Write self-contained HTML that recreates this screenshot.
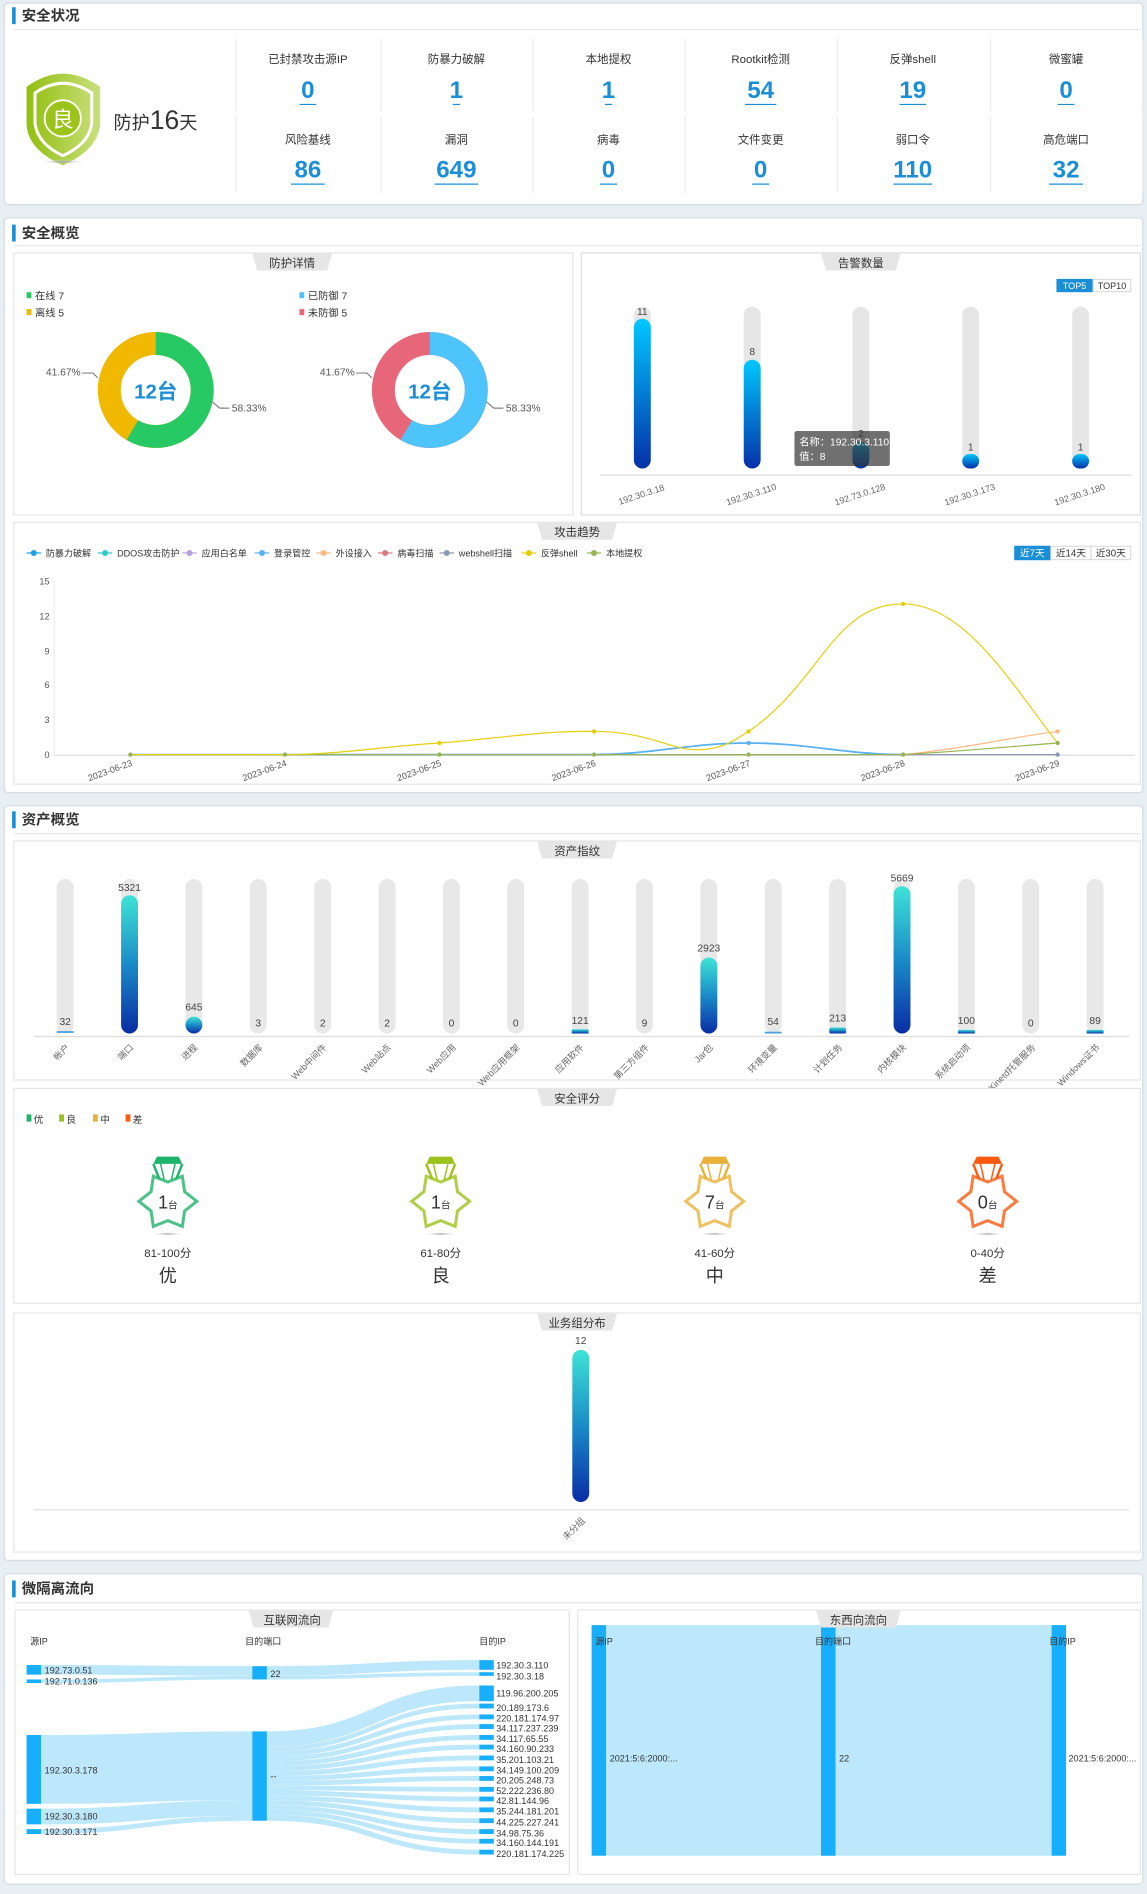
<!DOCTYPE html>
<html><head><meta charset="utf-8">
<style>
html,body{margin:0;padding:0;background:#e8eff3;}
svg{display:block;}
text{font-family:"Liberation Sans","Noto Sans CJK SC",sans-serif;}
</style></head>
<body>
<svg width="1147" height="1894" viewBox="0 0 950 1568.7" xmlns="http://www.w3.org/2000/svg">
<defs>
<linearGradient id="gB" x1="0" y1="0" x2="0" y2="1"><stop offset="0" stop-color="#00c8ff"/><stop offset="1" stop-color="#0630a8"/></linearGradient>
<linearGradient id="gA" x1="0" y1="0" x2="0" y2="1"><stop offset="0" stop-color="#3fe3d6"/><stop offset="0.5" stop-color="#1a8bc8"/><stop offset="1" stop-color="#0a2ca5"/></linearGradient>
<linearGradient id="gS" x1="0" y1="0" x2="1" y2="0"><stop offset="0" stop-color="#93bf10"/><stop offset="1" stop-color="#c9e07c"/></linearGradient>
<radialGradient id="sh"><stop offset="0" stop-color="#999"/><stop offset="1" stop-color="#fff" stop-opacity="0"/></radialGradient>
<polygon id="star" points="24,995 13.9,1003 12,1015.8 0,1011 -12,1015.8 -13.9,1003 -24,995 -13.9,987 -12,974.2 0,979 12,974.2 13.9,987"/>
</defs>
<rect width="950" height="1569" fill="#e8eff3"/>

<!-- PANEL 1 -->
<rect x="3.5" y="2.5" width="943" height="167" rx="3" fill="#fff" stroke="#d3dce2"/>
<rect x="10" y="6" width="3" height="14" fill="#1a8fd8"/>
<text x="18" y="17" font-size="12" font-weight="bold" fill="#333">安全状况</text>
<line x1="12" y1="24.5" x2="945" y2="24.5" stroke="#e6e6e6"/>
<path d="M22,72 Q52,50 83,72 L83,103 Q81,124 52,137 Q23,124 22,103 Z" fill="url(#gS)"/>
<path d="M29,77 Q52,61 76,77 L76,102 Q74,119 52,129 Q31,119 29,102 Z" fill="none" stroke="#fff" stroke-width="2.5"/>
<circle cx="52" cy="98" r="15" fill="#9cc31a" stroke="#fff" stroke-width="1.5"/>
<text x="52" y="105" font-size="18" fill="#fff" text-anchor="middle">良</text>
<ellipse cx="52" cy="134" rx="20" ry="2" fill="url(#sh)"/>
<text x="94" y="107" font-size="15" fill="#333">防护<tspan font-size="22">16</tspan>天</text>
<g stroke="#ececec">
<line x1="195.5" y1="32" x2="195.5" y2="160"/><line x1="315.5" y1="32" x2="315.5" y2="160"/><line x1="441.5" y1="32" x2="441.5" y2="160"/><line x1="567.5" y1="32" x2="567.5" y2="160"/><line x1="693.5" y1="32" x2="693.5" y2="160"/><line x1="820.5" y1="32" x2="820.5" y2="160"/><line x1="946.5" y1="32" x2="946.5" y2="160"/>
<line x1="195" y1="94.5" x2="946" y2="94.5" stroke="#fff" stroke-width="4"/>
</g>
<g font-size="9.5" fill="#333" text-anchor="middle">
<text x="255" y="52">已封禁攻击源IP</text><text x="378" y="52">防暴力破解</text><text x="504" y="52">本地提权</text><text x="630" y="52">Rootkit检测</text><text x="756" y="52">反弹shell</text><text x="883" y="52">微蜜罐</text>
<text x="255" y="119">风险基线</text><text x="378" y="119">漏洞</text><text x="504" y="119">病毒</text><text x="630" y="119">文件变更</text><text x="756" y="119">弱口令</text><text x="883" y="119">高危端口</text>
</g>
<g font-size="20" font-weight="bold" fill="#1a8fd8" text-anchor="middle">
<text x="255" y="81">0</text><text x="378" y="81">1</text><text x="504" y="81">1</text><text x="630" y="81">54</text><text x="756" y="81">19</text><text x="883" y="81">0</text>
<text x="255" y="147">86</text><text x="378" y="147">649</text><text x="504" y="147">0</text><text x="630" y="147">0</text><text x="756" y="147">110</text><text x="883" y="147">32</text>
</g>
<g stroke="#1a8fd8" stroke-width="1">
<line x1="248" y1="86.5" x2="262" y2="86.5"/><line x1="375" y1="86.5" x2="381" y2="86.5"/><line x1="501" y1="86.5" x2="507" y2="86.5"/><line x1="617" y1="86.5" x2="643" y2="86.5"/><line x1="745" y1="86.5" x2="767" y2="86.5"/><line x1="876" y1="86.5" x2="890" y2="86.5"/>
<line x1="241" y1="152.5" x2="269" y2="152.5"/><line x1="360" y1="152.5" x2="396" y2="152.5"/><line x1="497" y1="152.5" x2="511" y2="152.5"/><line x1="623" y1="152.5" x2="637" y2="152.5"/><line x1="740" y1="152.5" x2="772" y2="152.5"/><line x1="869" y1="152.5" x2="897" y2="152.5"/>
</g>

<!-- PANEL 2 -->
<rect x="3.5" y="180.5" width="943" height="476" rx="3" fill="#fff" stroke="#d3dce2"/>
<rect x="10" y="186" width="3" height="14" fill="#1a8fd8"/>
<text x="18" y="197" font-size="12" font-weight="bold" fill="#333">安全概览</text>
<line x1="12" y1="203.5" x2="945" y2="203.5" stroke="#e6e6e6"/>
<rect x="11.5" y="209.5" width="463" height="217" fill="#fff" stroke="#e6e6e6"/>
<polygon points="209,210 275,210 271,224 213,224" fill="#e6e6e6"/>
<text x="242" y="221" font-size="9.5" fill="#333" text-anchor="middle">防护详情</text>
<g font-size="8.5" fill="#333">
<rect x="22" y="242" width="4" height="5" fill="#27c964"/><text x="29" y="248">在线  7</text>
<rect x="22" y="256" width="4" height="5" fill="#f0b800"/><text x="29" y="262">离线  5</text>
<rect x="248" y="242" width="4" height="5" fill="#4dc4fb"/><text x="255" y="248">已防御  7</text>
<rect x="248" y="256" width="4" height="5" fill="#e8667a"/><text x="255" y="262">未防御  5</text>
</g>
<circle cx="129" cy="323" r="38.5" fill="none" stroke="#f0b800" stroke-width="19"/>
<circle cx="129" cy="323" r="38.5" fill="none" stroke="#27c964" stroke-width="19" stroke-dasharray="141.1 300" transform="rotate(-90 129 323)"/>
<text x="129" y="330" font-size="17" font-weight="bold" fill="#1a8fd8" text-anchor="middle">12台</text>
<circle cx="356" cy="323" r="38.5" fill="none" stroke="#e8667a" stroke-width="19"/>
<circle cx="356" cy="323" r="38.5" fill="none" stroke="#4dc4fb" stroke-width="19" stroke-dasharray="141.1 300" transform="rotate(-90 356 323)"/>
<text x="356" y="330" font-size="17" font-weight="bold" fill="#1a8fd8" text-anchor="middle">12台</text>
<g font-size="8.5" fill="#555" stroke-width="0.8">
<text x="38" y="311">41.67%</text><polyline points="68,309 77,309 81,313" fill="none" stroke="#666"/>
<text x="192" y="341">58.33%</text><polyline points="176,333 182,338 190,338" fill="none" stroke="#666"/>
<text x="265" y="311">41.67%</text><polyline points="295,309 304,309 308,313" fill="none" stroke="#666"/>
<text x="419" y="341">58.33%</text><polyline points="403,333 409,338 417,338" fill="none" stroke="#666"/>
</g>

<rect x="481.5" y="209.5" width="463" height="217" fill="#fff" stroke="#dcdcdc"/>
<polygon points="680,210 746,210 742,224 684,224" fill="#e6e6e6"/>
<text x="713" y="221" font-size="9.5" fill="#333" text-anchor="middle">告警数量</text>
<rect x="875" y="231" width="30" height="11" fill="#1a8fd8"/><text x="890" y="239.5" font-size="7.5" fill="#fff" text-anchor="middle">TOP5</text>
<rect x="905.5" y="231.5" width="31" height="10" fill="#fff" stroke="#ddd"/><text x="921" y="239.5" font-size="7.5" fill="#333" text-anchor="middle">TOP10</text>
<g fill="#e6e6e6">
<rect x="525" y="254" width="14" height="134" rx="7"/><rect x="616" y="254" width="14" height="134" rx="7"/><rect x="706" y="254" width="14" height="134" rx="7"/><rect x="797" y="254" width="14" height="134" rx="7"/><rect x="888" y="254" width="14" height="134" rx="7"/>
</g>
<rect x="525" y="264" width="14" height="124" rx="7" fill="url(#gB)"/>
<rect x="616" y="298" width="14" height="90" rx="7" fill="url(#gB)"/>
<rect x="706" y="366" width="14" height="22" rx="7" fill="url(#gB)"/>
<rect x="797" y="376" width="14" height="12" rx="6" fill="url(#gB)"/>
<rect x="888" y="376" width="14" height="12" rx="6" fill="url(#gB)"/>
<g font-size="8.5" fill="#444" text-anchor="middle">
<text x="532" y="261">11</text><text x="623" y="294">8</text><text x="713" y="362">2</text><text x="804" y="373">1</text><text x="895" y="373">1</text>
</g>
<line x1="497" y1="393.5" x2="937" y2="393.5" stroke="#ddd"/>
<g font-size="7.5" fill="#666" text-anchor="middle">
<text x="532" y="412" transform="rotate(-18 532 412)">192.30.3.18</text>
<text x="623" y="412" transform="rotate(-18 623 412)">192.30.3.110</text>
<text x="713" y="412" transform="rotate(-18 713 412)">192.73.0.128</text>
<text x="804" y="412" transform="rotate(-18 804 412)">192.30.3.173</text>
<text x="895" y="412" transform="rotate(-18 895 412)">192.30.3.180</text>
</g>
<rect x="658" y="357" width="79" height="29" rx="2" fill="#333" fill-opacity="0.7"/>
<text x="662" y="369" font-size="8.5" fill="#fff">名称：192.30.3.110</text>
<text x="662" y="381" font-size="8.5" fill="#fff">值：8</text>

<!-- attack trend -->
<rect x="11.5" y="432.5" width="933" height="217" fill="#fff" stroke="#e6e6e6"/>
<polygon points="445,433 511,433 507,447 449,447" fill="#e6e6e6"/>
<text x="478" y="444" font-size="9.5" fill="#333" text-anchor="middle">攻击趋势</text>
<g font-size="7.5" fill="#333">
<g><line x1="22" y1="458" x2="34" y2="458" stroke="#1e9fe8"/><circle cx="28" cy="458" r="2.5" fill="#1e9fe8"/><text x="38" y="461">防暴力破解</text></g>
<g><line x1="81" y1="458" x2="93" y2="458" stroke="#2ecbc7"/><circle cx="87" cy="458" r="2.5" fill="#2ecbc7"/><text x="97" y="461">DDOS攻击防护</text></g>
<g><line x1="151" y1="458" x2="163" y2="458" stroke="#b6a2de"/><circle cx="157" cy="458" r="2.5" fill="#b6a2de"/><text x="167" y="461">应用白名单</text></g>
<g><line x1="211" y1="458" x2="223" y2="458" stroke="#5ab1ef"/><circle cx="217" cy="458" r="2.5" fill="#5ab1ef"/><text x="227" y="461">登录管控</text></g>
<g><line x1="262" y1="458" x2="274" y2="458" stroke="#ffb980"/><circle cx="268" cy="458" r="2.5" fill="#ffb980"/><text x="278" y="461">外设接入</text></g>
<g><line x1="313" y1="458" x2="325" y2="458" stroke="#d87a80"/><circle cx="319" cy="458" r="2.5" fill="#d87a80"/><text x="329" y="461">病毒扫描</text></g>
<g><line x1="364" y1="458" x2="376" y2="458" stroke="#8d98b3"/><circle cx="370" cy="458" r="2.5" fill="#8d98b3"/><text x="380" y="461">webshell扫描</text></g>
<g><line x1="432" y1="458" x2="444" y2="458" stroke="#e5cf0d"/><circle cx="438" cy="458" r="2.5" fill="#e5cf0d"/><text x="448" y="461">反弹shell</text></g>
<g><line x1="486" y1="458" x2="498" y2="458" stroke="#97b552"/><circle cx="492" cy="458" r="2.5" fill="#97b552"/><text x="502" y="461">本地提权</text></g>
</g>
<rect x="840" y="452" width="30" height="12" fill="#1a8fd8"/><text x="855" y="461" font-size="8" fill="#fff" text-anchor="middle">近7天</text>
<rect x="870.5" y="452.5" width="33" height="11" fill="#fff" stroke="#ddd"/><text x="887" y="461" font-size="8" fill="#333" text-anchor="middle">近14天</text>
<rect x="903.5" y="452.5" width="33" height="11" fill="#fff" stroke="#ddd"/><text x="920" y="461" font-size="8" fill="#333" text-anchor="middle">近30天</text>
<g font-size="7.5" fill="#555" text-anchor="end">
<text x="41" y="484">15</text><text x="41" y="513">12</text><text x="41" y="542">9</text><text x="41" y="570">6</text><text x="41" y="599">3</text><text x="41" y="628">0</text>
</g>
<line x1="45" y1="481" x2="45" y2="625" stroke="#eee"/>
<line x1="45" y1="625.5" x2="940" y2="625.5" stroke="#ddd"/>
<g fill="none" stroke-width="1">
<path d="M108,625 L876,625" stroke="#8d98b3"/>
<path d="M108,625 L492,625 C540,625 570,615.4 620,615.4 C670,615.4 700,625 748,625" stroke="#5ab1ef" stroke-width="1.5"/>
<path d="M748,625 C800,620 840,610 876,605.8" stroke="#ffb980"/>
<path d="M108,625 L748,625 C800,622 840,618 876,615.4" stroke="#97b552"/>
<path d="M108,625 L236,625 C280,625 320,618 364,615.4 C410,612 450,605 492,605.8 C540,606 555,622 580,621 C600,620 610,612 620,605.8 C680,565 690,500 748,500.2 C800,500 840,570 876,615.4" stroke="#e5cf0d"/>
</g>
<g fill="#97b552">
<circle cx="108" cy="625" r="1.8"/><circle cx="236" cy="625" r="1.8"/><circle cx="364" cy="625" r="1.8"/><circle cx="492" cy="625" r="1.8"/><circle cx="620" cy="625" r="1.8"/><circle cx="748" cy="625" r="1.8"/><circle cx="876" cy="615.4" r="1.8"/>
</g>
<g fill="#e5cf0d"><circle cx="364" cy="615.4" r="1.8"/><circle cx="492" cy="605.8" r="1.8"/><circle cx="620" cy="605.8" r="1.8"/><circle cx="748" cy="500.2" r="1.8"/></g>
<circle cx="620" cy="615.4" r="1.8" fill="#5ab1ef"/><circle cx="876" cy="605.8" r="1.8" fill="#ffb980"/><circle cx="876" cy="625" r="1.8" fill="#8d98b3"/>
<g font-size="7.5" fill="#555" text-anchor="end">
<text x="110" y="634" transform="rotate(-20 110 634)">2023-06-23</text>
<text x="238" y="634" transform="rotate(-20 238 634)">2023-06-24</text>
<text x="366" y="634" transform="rotate(-20 366 634)">2023-06-25</text>
<text x="494" y="634" transform="rotate(-20 494 634)">2023-06-26</text>
<text x="622" y="634" transform="rotate(-20 622 634)">2023-06-27</text>
<text x="750" y="634" transform="rotate(-20 750 634)">2023-06-28</text>
<text x="878" y="634" transform="rotate(-20 878 634)">2023-06-29</text>
</g>

<!-- PANEL 3 -->
<rect x="3.5" y="667.5" width="943" height="625" rx="3" fill="#fff" stroke="#d3dce2"/>
<rect x="10" y="672" width="3" height="14" fill="#1a8fd8"/>
<text x="18" y="683" font-size="12" font-weight="bold" fill="#333">资产概览</text>
<line x1="12" y1="690.5" x2="945" y2="690.5" stroke="#e6e6e6"/>
<rect x="11.5" y="696.5" width="933" height="198" fill="#fff" stroke="#e6e6e6"/>
<polygon points="445,697 511,697 507,711 449,711" fill="#e6e6e6"/>
<text x="478" y="708" font-size="9.5" fill="#333" text-anchor="middle">资产指纹</text>
<g fill="#e8e8e8">
<rect x="47" y="728" width="14" height="128" rx="7"/><rect x="100.3" y="728" width="14" height="128" rx="7"/><rect x="153.6" y="728" width="14" height="128" rx="7"/><rect x="206.9" y="728" width="14" height="128" rx="7"/><rect x="260.3" y="728" width="14" height="128" rx="7"/><rect x="313.6" y="728" width="14" height="128" rx="7"/><rect x="366.9" y="728" width="14" height="128" rx="7"/><rect x="420.2" y="728" width="14" height="128" rx="7"/><rect x="473.5" y="728" width="14" height="128" rx="7"/><rect x="526.8" y="728" width="14" height="128" rx="7"/><rect x="580.1" y="728" width="14" height="128" rx="7"/><rect x="633.4" y="728" width="14" height="128" rx="7"/><rect x="686.8" y="728" width="14" height="128" rx="7"/><rect x="740.1" y="728" width="14" height="128" rx="7"/><rect x="793.4" y="728" width="14" height="128" rx="7"/><rect x="846.7" y="728" width="14" height="128" rx="7"/><rect x="900" y="728" width="14" height="128" rx="7"/>
</g>
<rect x="47" y="854" width="14" height="1.5" fill="#4aa3df"/>
<rect x="100.3" y="741.5" width="14" height="114.5" rx="7" fill="url(#gA)"/>
<rect x="153.6" y="842" width="14" height="14" rx="7" fill="url(#gA)"/>
<rect x="473.5" y="852.5" width="14" height="3.5" fill="url(#gA)"/>
<rect x="580.1" y="793" width="14" height="63" rx="7" fill="url(#gA)"/>
<rect x="633.4" y="854.5" width="14" height="1.5" fill="#4aa3df"/>
<rect x="686.8" y="851" width="14" height="5" rx="1.5" fill="url(#gA)"/>
<rect x="740.1" y="734" width="14" height="122" rx="7" fill="url(#gA)"/>
<rect x="793.4" y="853" width="14" height="3" fill="url(#gA)"/>
<rect x="900" y="853" width="14" height="3" fill="url(#gA)"/>
<g font-size="8.5" fill="#444" text-anchor="middle">
<text x="54" y="849">32</text><text x="107.3" y="738">5321</text><text x="160.6" y="837">645</text><text x="213.9" y="850">3</text><text x="267.3" y="850">2</text><text x="320.6" y="850">2</text><text x="373.9" y="850">0</text><text x="427.2" y="850">0</text><text x="480.5" y="848">121</text><text x="533.8" y="850">9</text><text x="587.1" y="788">2923</text><text x="640.4" y="849">54</text><text x="693.8" y="846">213</text><text x="747.1" y="730">5669</text><text x="800.4" y="848">100</text><text x="853.7" y="850">0</text><text x="907" y="848">89</text>
</g>
<line x1="28" y1="858.5" x2="935" y2="858.5" stroke="#ddd"/>
<g font-size="7.5" fill="#666" text-anchor="end">
<text x="58" y="868" transform="rotate(-45 58 868)">帐户</text>
<text x="111" y="868" transform="rotate(-45 111 868)">端口</text>
<text x="164" y="868" transform="rotate(-45 164 868)">进程</text>
<text x="218" y="868" transform="rotate(-45 218 868)">数据库</text>
<text x="271" y="868" transform="rotate(-45 271 868)">Web中间件</text>
<text x="324" y="868" transform="rotate(-45 324 868)">Web站点</text>
<text x="378" y="868" transform="rotate(-45 378 868)">Web应用</text>
<text x="431" y="868" transform="rotate(-45 431 868)">Web应用框架</text>
<text x="484" y="868" transform="rotate(-45 484 868)">应用软件</text>
<text x="538" y="868" transform="rotate(-45 538 868)">第三方组件</text>
<text x="591" y="868" transform="rotate(-45 591 868)">Jar包</text>
<text x="644" y="868" transform="rotate(-45 644 868)">环境变量</text>
<text x="698" y="868" transform="rotate(-45 698 868)">计划任务</text>
<text x="751" y="868" transform="rotate(-45 751 868)">内核模块</text>
<text x="804" y="868" transform="rotate(-45 804 868)">系统启动项</text>
<text x="858" y="868" transform="rotate(-45 858 868)">Xinetd托管服务</text>
<text x="911" y="868" transform="rotate(-45 911 868)">Windows证书</text>
</g>

<!-- safety score -->
<rect x="11.5" y="901.5" width="933" height="178" fill="#fff" stroke="#e6e6e6"/>
<polygon points="445,902 511,902 507,916 449,916" fill="#e6e6e6"/>
<text x="478" y="913" font-size="9.5" fill="#333" text-anchor="middle">安全评分</text>
<g font-size="8" fill="#333">
<rect x="22" y="923" width="4" height="6" fill="#1db36a"/><text x="28" y="930">优</text>
<rect x="49" y="923" width="4" height="6" fill="#9dc21b"/><text x="55" y="930">良</text>
<rect x="77" y="923" width="4" height="6" fill="#eab13a"/><text x="83" y="930">中</text>
<rect x="104" y="923" width="4" height="6" fill="#fd5a11"/><text x="110" y="930">差</text>
</g>
<g transform="translate(139,0)">
<polygon points="-9,958 9,958 12,964 -12,964" fill="#1db36a"/>
<line x1="-12" y1="964" x2="-6" y2="979" stroke="#1db36a" stroke-width="2"/><line x1="12" y1="964" x2="6" y2="979" stroke="#1db36a" stroke-width="2"/><line x1="-6" y1="964" x2="-3" y2="977" stroke="#1db36a" stroke-width="1.2"/><line x1="6" y1="964" x2="3" y2="977" stroke="#1db36a" stroke-width="1.2"/>
<use href="#star" fill="#fff" stroke="#1db36a" stroke-width="2.5" stroke-opacity="0.8"/>
<text x="0" y="1001" font-size="15" fill="#333" text-anchor="middle">1<tspan font-size="8">台</tspan></text>
<ellipse cx="0" cy="1022" rx="14" ry="1.5" fill="url(#sh)"/>
<text x="0" y="1041" font-size="9.5" fill="#333" text-anchor="middle">81-100分</text>
<text x="0" y="1062" font-size="15" fill="#333" text-anchor="middle">优</text>
</g>
<g transform="translate(365,0)">
<polygon points="-9,958 9,958 12,964 -12,964" fill="#9dc21b"/>
<line x1="-12" y1="964" x2="-6" y2="979" stroke="#9dc21b" stroke-width="2"/><line x1="12" y1="964" x2="6" y2="979" stroke="#9dc21b" stroke-width="2"/><line x1="-6" y1="964" x2="-3" y2="977" stroke="#9dc21b" stroke-width="1.2"/><line x1="6" y1="964" x2="3" y2="977" stroke="#9dc21b" stroke-width="1.2"/>
<use href="#star" fill="#fff" stroke="#9dc21b" stroke-width="2.5" stroke-opacity="0.8"/>
<text x="0" y="1001" font-size="15" fill="#333" text-anchor="middle">1<tspan font-size="8">台</tspan></text>
<ellipse cx="0" cy="1022" rx="14" ry="1.5" fill="url(#sh)"/>
<text x="0" y="1041" font-size="9.5" fill="#333" text-anchor="middle">61-80分</text>
<text x="0" y="1062" font-size="15" fill="#333" text-anchor="middle">良</text>
</g>
<g transform="translate(592,0)">
<polygon points="-9,958 9,958 12,964 -12,964" fill="#eab13a"/>
<line x1="-12" y1="964" x2="-6" y2="979" stroke="#eab13a" stroke-width="2"/><line x1="12" y1="964" x2="6" y2="979" stroke="#eab13a" stroke-width="2"/><line x1="-6" y1="964" x2="-3" y2="977" stroke="#eab13a" stroke-width="1.2"/><line x1="6" y1="964" x2="3" y2="977" stroke="#eab13a" stroke-width="1.2"/>
<use href="#star" fill="#fff" stroke="#eab13a" stroke-width="2.5" stroke-opacity="0.8"/>
<text x="0" y="1001" font-size="15" fill="#333" text-anchor="middle">7<tspan font-size="8">台</tspan></text>
<ellipse cx="0" cy="1022" rx="14" ry="1.5" fill="url(#sh)"/>
<text x="0" y="1041" font-size="9.5" fill="#333" text-anchor="middle">41-60分</text>
<text x="0" y="1062" font-size="15" fill="#333" text-anchor="middle">中</text>
</g>
<g transform="translate(818,0)">
<polygon points="-9,958 9,958 12,964 -12,964" fill="#fd5a11"/>
<line x1="-12" y1="964" x2="-6" y2="979" stroke="#fd5a11" stroke-width="2"/><line x1="12" y1="964" x2="6" y2="979" stroke="#fd5a11" stroke-width="2"/><line x1="-6" y1="964" x2="-3" y2="977" stroke="#fd5a11" stroke-width="1.2"/><line x1="6" y1="964" x2="3" y2="977" stroke="#fd5a11" stroke-width="1.2"/>
<use href="#star" fill="#fff" stroke="#fd5a11" stroke-width="2.5" stroke-opacity="0.8"/>
<text x="0" y="1001" font-size="15" fill="#333" text-anchor="middle">0<tspan font-size="8">台</tspan></text>
<ellipse cx="0" cy="1022" rx="14" ry="1.5" fill="url(#sh)"/>
<text x="0" y="1041" font-size="9.5" fill="#333" text-anchor="middle">0-40分</text>
<text x="0" y="1062" font-size="15" fill="#333" text-anchor="middle">差</text>
</g>

<!-- business group -->
<rect x="11.5" y="1087.5" width="933" height="198" fill="#fff" stroke="#e6e6e6"/>
<polygon points="445,1088 511,1088 507,1102 449,1102" fill="#e6e6e6"/>
<text x="478" y="1099" font-size="9.5" fill="#333" text-anchor="middle">业务组分布</text>
<rect x="474" y="1118" width="14" height="126" rx="7" fill="url(#gA)"/>
<text x="481" y="1113" font-size="8.5" fill="#444" text-anchor="middle">12</text>
<line x1="28" y1="1250.5" x2="935" y2="1250.5" stroke="#ddd"/>
<text x="485" y="1260" font-size="7.5" fill="#666" text-anchor="end" transform="rotate(-45 485 1260)">未分组</text>

<!-- PANEL 4 -->
<rect x="3.5" y="1303.5" width="943" height="257" rx="3" fill="#fff" stroke="#d3dce2"/>
<rect x="10" y="1309" width="3" height="14" fill="#1a8fd8"/>
<text x="18" y="1320" font-size="12" font-weight="bold" fill="#333">微隔离流向</text>
<line x1="12" y1="1327.5" x2="945" y2="1327.5" stroke="#e6e6e6"/>

<rect x="12.5" y="1333.5" width="459" height="219" fill="#fff" stroke="#e6e6e6"/>
<polygon points="206,1334 276,1334 272,1348 210,1348" fill="#e6e6e6"/>
<text x="242" y="1345" font-size="9.5" fill="#333" text-anchor="middle">互联网流向</text>
<g font-size="7.5" fill="#333"><text x="25" y="1362">源IP</text><text x="203" y="1362">目的端口</text><text x="397" y="1362">目的IP</text></g>
<g fill="#bde7fb">
<path d="M34,1379 C120,1379 120,1380 209,1380 L209,1388 C120,1388 120,1387 34,1387 Z"/>
<path d="M34,1391 C120,1391 120,1388 209,1388 L209,1391 C120,1391 120,1394 34,1394 Z"/>
<path d="M221,1380 C309,1380 309,1375 397,1375 L397,1383 C309,1383 309,1388 221,1388 Z"/>
<path d="M221,1388 C309,1388 309,1385 397,1385 L397,1388 C309,1388 309,1391 221,1391 Z"/>
<path d="M34,1437 C120,1437 120,1434 209,1434 L209,1491 C120,1491 120,1494 34,1494 Z"/>
<path d="M34,1498 C120,1498 120,1491 209,1491 L209,1504 C120,1504 120,1511 34,1511 Z"/>
<path d="M34,1515 C120,1515 120,1504 209,1504 L209,1508 C120,1508 120,1519 34,1519 Z"/>
<path d="M221,1434 C309,1434 309,1396 397,1396 L397,1409 C309,1409 309,1447 221,1447 Z"/>
<path d="M221,1447 C309,1447 309,1411 397,1411 L397,1415 C309,1415 309,1451 221,1451 Z"/>
<path d="M221,1451 C309,1451 309,1420 397,1420 L397,1424 C309,1424 309,1455 221,1455 Z"/>
<path d="M221,1455 C309,1455 309,1428 397,1428 L397,1432 C309,1432 309,1459 221,1459 Z"/>
<path d="M221,1459 C309,1459 309,1437 397,1437 L397,1441 C309,1441 309,1463 221,1463 Z"/>
<path d="M221,1463 C309,1463 309,1445 397,1445 L397,1449 C309,1449 309,1467 221,1467 Z"/>
<path d="M221,1467 C309,1467 309,1454 397,1454 L397,1458 C309,1458 309,1471 221,1471 Z"/>
<path d="M221,1471 C309,1471 309,1463 397,1463 L397,1467 C309,1467 309,1475 221,1475 Z"/>
<path d="M221,1475 C309,1475 309,1471 397,1471 L397,1475 C309,1475 309,1479 221,1479 Z"/>
<path d="M221,1479 C309,1479 309,1480 397,1480 L397,1484 C309,1484 309,1483 221,1483 Z"/>
<path d="M221,1483 C309,1483 309,1488 397,1488 L397,1492 C309,1492 309,1487 221,1487 Z"/>
<path d="M221,1487 C309,1487 309,1497 397,1497 L397,1501 C309,1501 309,1491 221,1491 Z"/>
<path d="M221,1491 C309,1491 309,1506 397,1506 L397,1510 C309,1510 309,1495 221,1495 Z"/>
<path d="M221,1495 C309,1495 309,1515 397,1515 L397,1519 C309,1519 309,1499 221,1499 Z"/>
<path d="M221,1499 C309,1499 309,1523 397,1523 L397,1527 C309,1527 309,1503 221,1503 Z"/>
<path d="M221,1503 C309,1503 309,1532 397,1532 L397,1536 C309,1536 309,1508 221,1508 Z"/>
</g>
<g fill="#17aefc">
<rect x="22" y="1379" width="12" height="8"/><rect x="22" y="1391" width="12" height="3"/><rect x="22" y="1437" width="12" height="57"/><rect x="22" y="1498" width="12" height="13"/><rect x="22" y="1515" width="12" height="4"/>
<rect x="209" y="1380" width="12" height="11"/><rect x="209" y="1434" width="12" height="74"/>
<rect x="397" y="1375" width="12" height="8"/><rect x="397" y="1385" width="12" height="3"/><rect x="397" y="1396" width="12" height="13"/>
<rect x="397" y="1411" width="12" height="4"/><rect x="397" y="1420" width="12" height="4"/><rect x="397" y="1428" width="12" height="4"/><rect x="397" y="1437" width="12" height="4"/><rect x="397" y="1445" width="12" height="4"/><rect x="397" y="1454" width="12" height="4"/><rect x="397" y="1463" width="12" height="4"/><rect x="397" y="1471" width="12" height="4"/><rect x="397" y="1480" width="12" height="4"/><rect x="397" y="1488" width="12" height="4"/><rect x="397" y="1497" width="12" height="4"/><rect x="397" y="1506" width="12" height="4"/><rect x="397" y="1515" width="12" height="4"/><rect x="397" y="1523" width="12" height="4"/><rect x="397" y="1532" width="12" height="4"/>
</g>
<g font-size="7.5" fill="#333">
<text x="37" y="1386">192.73.0.51</text><text x="37" y="1395">192.71.0.136</text><text x="37" y="1469">192.30.3.178</text><text x="37" y="1507">192.30.3.180</text><text x="37" y="1520">192.30.3.171</text>
<text x="224" y="1389">22</text><text x="224" y="1474">--</text>
<text x="411" y="1382">192.30.3.110</text><text x="411" y="1391">192.30.3.18</text><text x="411" y="1405">119.96.200.205</text>
<text x="411" y="1417">20.189.173.6</text><text x="411" y="1426">220.181.174.97</text><text x="411" y="1434">34.117.237.239</text><text x="411" y="1443">34.117.65.55</text><text x="411" y="1451">34.160.90.233</text><text x="411" y="1460">35.201.103.21</text><text x="411" y="1469">34.149.100.209</text><text x="411" y="1477">20.205.248.73</text><text x="411" y="1486">52.222.236.80</text><text x="411" y="1494">42.81.144.96</text><text x="411" y="1503">35.244.181.201</text><text x="411" y="1512">44.225.227.241</text><text x="411" y="1521">34.98.75.36</text><text x="411" y="1529">34.160.144.191</text><text x="411" y="1538">220.181.174.225</text>
</g>

<rect x="478.5" y="1333.5" width="466" height="219" fill="#fff" stroke="#e6e6e6"/>
<rect x="502" y="1346" width="369" height="191" fill="#bde7fb"/>
<g fill="#17aefc"><rect x="490" y="1346" width="12" height="191"/><rect x="680" y="1346" width="12" height="191"/><rect x="871" y="1346" width="12" height="191"/></g>
<polygon points="676,1334 746,1334 742,1348 680,1348" fill="#e6e6e6"/>
<text x="711" y="1345" font-size="9.5" fill="#333" text-anchor="middle">东西向流向</text>
<g font-size="7.5" fill="#333"><text x="493" y="1362">源IP</text><text x="675" y="1362">目的端口</text><text x="869" y="1362">目的IP</text></g>
<g font-size="7.5" fill="#333"><text x="505" y="1459">2021:5:6:2000:...</text><text x="695" y="1459">22</text><text x="885" y="1459">2021:5:6:2000:...</text></g>
</svg>
</body></html>
